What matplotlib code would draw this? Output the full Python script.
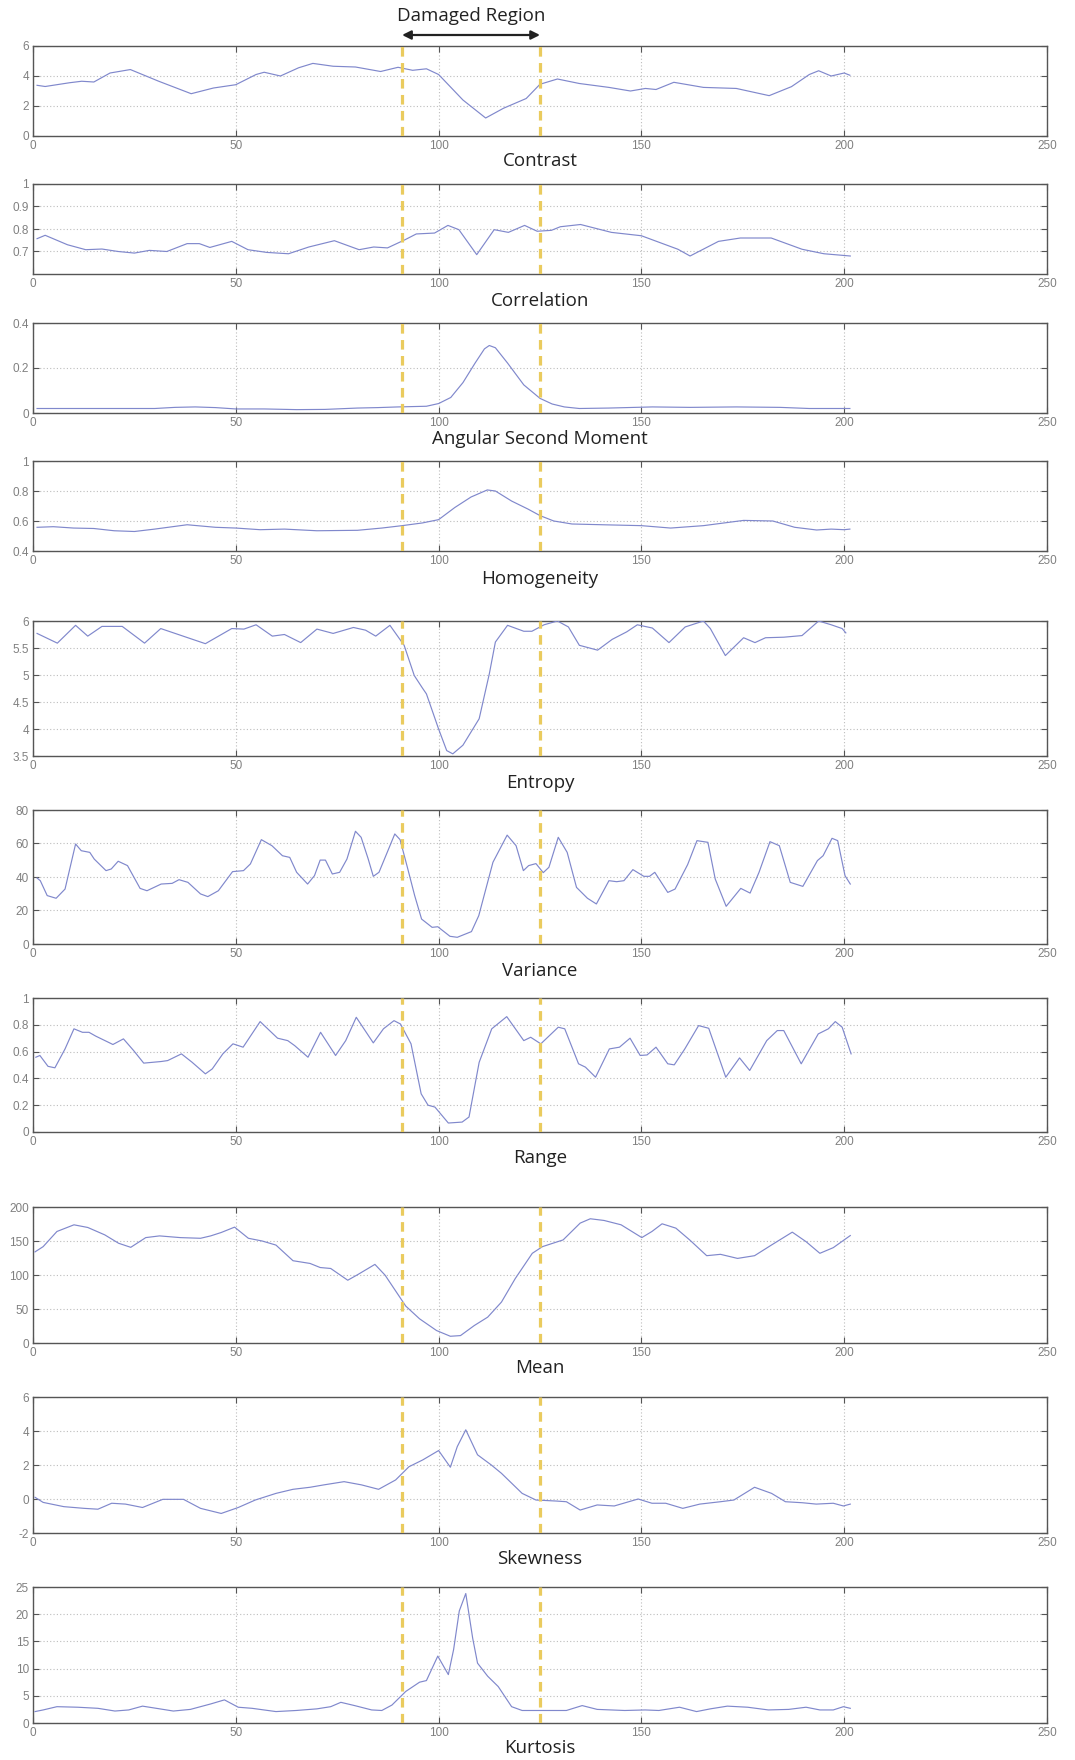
import matplotlib
matplotlib.use('Agg')
import matplotlib.pyplot as plt

# ---------------- data ----------------
contrast_x = [1,3,9,12,15,19,24,31,39,44.5,50,55,57,61,65.5,69,74,79.5,85.7,90,93.6,97,100,106,111.6,116,121.6,125,129.3,134.7,142,147.3,151,153.6,158,165.3,173.4,181.5,187,191.4,193.7,196.8,200,201.4]
contrast_y = [3.38,3.3,3.55,3.65,3.6,4.2,4.43,3.65,2.82,3.2,3.42,4.1,4.25,4.0,4.55,4.84,4.65,4.6,4.3,4.58,4.38,4.48,4.1,2.4,1.2,1.85,2.5,3.45,3.8,3.5,3.24,3.0,3.17,3.1,3.58,3.24,3.17,2.69,3.29,4.1,4.35,4.0,4.2,4.05]

corr_x = [1,3,8.5,13,17,21,25,28.7,33,38,41,43.6,49,53,57.6,63,68,74.3,80.4,84,87.4,91.8,94.5,99,102.3,105,109.4,113.7,117.2,121.2,124.3,127.8,130,135,142.6,150,159,162,169,174.4,182,189.6,195,201.5]
corr_y = [0.757,0.772,0.73,0.708,0.711,0.70,0.693,0.705,0.70,0.735,0.735,0.718,0.745,0.708,0.696,0.69,0.72,0.748,0.708,0.72,0.716,0.753,0.778,0.782,0.816,0.797,0.686,0.797,0.785,0.816,0.79,0.794,0.81,0.82,0.785,0.77,0.71,0.68,0.745,0.76,0.76,0.71,0.69,0.68]

asm_x = [1,10,20,30,35,40,45,50,57,65,72,80,85,90,97,100,103,106,109,111.3,112.5,114,117,121,125,128,131,134.7,142,152.7,162,173.4,184.2,191.4,201.4]
asm_y = [0.02,0.02,0.02,0.02,0.025,0.027,0.024,0.018,0.018,0.015,0.016,0.022,0.024,0.027,0.03,0.042,0.069,0.135,0.222,0.285,0.30,0.29,0.222,0.125,0.065,0.04,0.027,0.02,0.022,0.027,0.025,0.027,0.025,0.02,0.02]

homog_x = [1,5,10,15,20,25,30,38,45,50,56,62,70,80,86,91,96,100,104,108,112,114,118,122,125,128.4,132.9,141.9,150,157.2,165.3,175.2,182.4,187.8,193.2,196.8,200,201.4]
homog_y = [0.558,0.562,0.553,0.55,0.535,0.53,0.546,0.575,0.558,0.553,0.542,0.546,0.535,0.538,0.553,0.569,0.587,0.609,0.69,0.76,0.807,0.8,0.733,0.68,0.636,0.6,0.58,0.574,0.569,0.553,0.569,0.604,0.6,0.558,0.54,0.546,0.542,0.546]

entropy_x = [1,6,10.5,13.5,17,22,27.5,31.5,42.5,49,52,55,59,62,66,70,74,79,82,84.5,88,91.5,94,96,97,100,102,103.5,106,110,112.5,114,117,121,123,126,129.3,132,134.7,139.2,142.8,146.4,149,152.7,156.8,160.8,165.3,167,170.7,175.2,178,180.6,185.1,189.6,193.7,196.8,199.5,200.4]
entropy_y = [5.77,5.59,5.92,5.72,5.9,5.9,5.59,5.86,5.58,5.86,5.85,5.93,5.72,5.75,5.6,5.85,5.77,5.88,5.83,5.72,5.92,5.55,4.99,4.76,4.65,4.0,3.6,3.54,3.7,4.19,5.02,5.61,5.92,5.81,5.81,5.93,6.0,5.89,5.55,5.46,5.66,5.8,5.93,5.87,5.6,5.89,6.0,5.86,5.36,5.69,5.6,5.69,5.7,5.73,6.0,5.93,5.86,5.78]

var_x = [1,1.8,3.5,5.7,7.9,10.5,11.9,14,15.1,18,19.3,21,23.3,26.4,28.1,31.6,34.3,36,38.2,41.3,43.1,45.7,49.2,51.9,53.6,56.3,58.9,61.5,63.3,65,67.7,69.4,70.8,72.1,73.8,75.6,77.4,79.5,80.9,82.6,83.9,85.3,87.5,89.2,90.5,92.3,94.1,95.8,98.4,99.8,102.8,104.6,108.1,109.9,113.4,116.9,119.1,120.9,122.2,124,125.8,127.2,129.5,131.7,134,136.7,138.9,142,143.9,145.7,147.9,150.6,152,153.3,156.5,158.3,161.4,163.7,166.4,168.2,170.9,174.5,176.8,179,181.7,184,186.7,189.8,193.4,194.8,197,198.4,200.2,201.5]
var_y = [39.4,37.8,28.9,27.3,32.8,59.7,55.7,54.7,50.7,43.8,44.8,49.4,46.8,33.2,31.8,35.8,36.2,38.4,36.8,29.9,28.3,31.8,43.2,43.8,47.8,62.3,58.7,52.7,51.7,42.8,35.8,40.8,50.1,50.1,41.8,42.8,50.7,67.3,63.7,51.1,40.4,42.8,55.7,65.7,62.3,45.8,28.9,14.9,9.95,10.3,4.6,4.0,7.4,16.9,48.8,65,58.7,43.8,46.8,48,42.6,45.8,63.7,54.7,33.8,27.3,23.9,37.8,37.2,37.8,44.4,40.4,40.4,42.8,30.8,32.8,47.4,61.7,60.7,38.8,22.5,33.2,30.4,42.8,61.1,58.7,36.8,34.4,49.8,52.7,63.1,61.7,40.8,35.8]

range_x = [0.7,1.7,3.7,5.4,7.9,10.1,12.2,13.8,15.5,18.9,19.7,22.3,24.8,27.3,31.6,33.2,36.6,39.2,42.5,44.2,46.8,49.3,51.8,56,60.3,62.8,64.5,67.8,70.9,74.6,77.1,79.7,83.9,86.4,89,90.6,93.2,95.7,97.4,99.1,102.4,105.8,107.5,110,113.1,116.8,121,122.7,125.2,129.5,131.1,134.5,136.2,138.7,142.1,144.6,147.2,149.7,151.4,153.6,156.5,158.1,160.7,164.1,166.6,170.8,174.2,176.7,180.9,183.5,185.1,189.4,193.6,196.1,197.8,199.5,201.7]
range_y = [0.558,0.571,0.49,0.479,0.62,0.77,0.744,0.744,0.715,0.665,0.653,0.695,0.608,0.514,0.526,0.533,0.583,0.521,0.434,0.471,0.583,0.658,0.633,0.824,0.7,0.682,0.645,0.558,0.744,0.571,0.682,0.856,0.665,0.77,0.831,0.806,0.658,0.285,0.2,0.186,0.067,0.074,0.112,0.52,0.77,0.861,0.682,0.707,0.658,0.782,0.77,0.509,0.484,0.409,0.62,0.633,0.7,0.571,0.575,0.633,0.509,0.501,0.62,0.794,0.774,0.409,0.553,0.459,0.682,0.757,0.757,0.509,0.732,0.77,0.824,0.782,0.583]

mean_x = [0.5,2.5,5.9,10.1,13.5,17.7,21.1,24.1,27.8,31.2,36.3,41.3,43.8,46.4,49.7,53.1,56.5,59.9,64.1,68.3,70.8,73.4,77.6,80.1,84.3,86.8,91.9,95.3,99.5,102.9,105.4,108.8,112.1,115.5,118.9,123.1,125.6,130.7,134.9,137.4,140.8,145,150.1,152.6,155.1,158.5,161.9,166.1,169.5,173.7,177.9,182.1,187.2,190.6,194,197.3,201.5]
mean_y = [134,141.7,164,173.8,169.9,159,146.7,140.7,155,157.5,155,154,157.5,162.5,170.4,154,150,144,121,117,111,109.6,92.3,100.7,115.6,99.8,54.3,35.6,18.3,9.9,10.9,25.7,38,60.2,94.8,131.9,141.7,151.6,176.3,182.7,180.2,173.8,155,164,175.3,168.9,151.6,128.4,130.4,124.4,128.4,144.2,163,149,131.9,140.2,158]

skew_x = [0.5,2.5,7.6,12.6,16,19.4,22.8,27,32,37.1,41.3,46.4,50.6,54.8,59.9,64.1,68.3,71.7,76.7,81,85.2,89.4,92.7,96.1,100,102.9,104.6,106.7,109.6,113,115.5,120.6,124,129,131.5,134.9,139.1,143.3,149.2,152.6,156,160.2,164.4,169.5,172.8,177.9,182.1,185.5,189.7,193.1,197.3,199.8,201.5]
skew_y = [0.1,-0.2,-0.45,-0.55,-0.6,-0.25,-0.3,-0.5,-0.02,-0.02,-0.55,-0.85,-0.5,-0.06,0.33,0.57,0.69,0.83,1.02,0.83,0.57,1.12,1.9,2.3,2.85,1.87,3.08,4.07,2.6,2.0,1.51,0.33,-0.06,-0.12,-0.16,-0.65,-0.35,-0.41,0,-0.25,-0.25,-0.55,-0.3,-0.16,-0.06,0.69,0.33,-0.16,-0.22,-0.3,-0.25,-0.41,-0.3]

kurt_x = [0.5,2.5,5.9,11,16,20.2,23.6,27,30.4,34.6,38.8,43.8,47.2,50.6,54,59.9,64.9,70,73.4,75.9,79.3,83.5,86,88.5,91.9,95.3,97,99.8,102.4,103.7,105.1,106.7,108.4,109.6,112.1,114.7,118,120.6,125.6,131.5,135.4,139.1,145.9,150.9,154.3,159.4,163.6,167,171.2,176.2,181.3,186.3,190.6,194,197.3,199.8,201.5]
kurt_y = [2.1,2.4,3.0,2.9,2.7,2.2,2.4,3.1,2.7,2.2,2.5,3.5,4.25,2.9,2.7,2.1,2.3,2.6,3.0,3.8,3.2,2.4,2.3,3.3,5.8,7.5,7.8,12.3,8.9,13.5,20.6,23.8,15.6,11,8.6,6.7,3.0,2.3,2.3,2.3,3.2,2.5,2.3,2.4,2.3,2.9,2.1,2.6,3.1,2.9,2.4,2.5,2.9,2.4,2.4,3.0,2.7]

titles = ["Contrast", "Correlation", "Angular Second Moment", "Homogeneity", "Entropy",
          "Variance", "Range", "Mean", "Skewness", "Kurtosis"]
ylims = [(0, 6), (0.6, 1), (0, 0.4), (0.4, 1), (3.5, 6), (0, 80), (0, 1), (0, 200), (-2, 6), (0, 25)]
yticks = [[0, 2, 4, 6], [0.7, 0.8, 0.9, 1], [0, 0.2, 0.4], [0.4, 0.6, 0.8, 1],
          [3.5, 4, 4.5, 5, 5.5, 6], [0, 20, 40, 60, 80], [0, 0.2, 0.4, 0.6, 0.8, 1],
          [0, 50, 100, 150, 200], [-2, 0, 2, 4, 6], [0, 5, 10, 15, 20, 25]]
ytick_labels = [["0", "2", "4", "6"], ["0.7", "0.8", "0.9", "1"], ["0", "0.2", "0.4"],
                ["0.4", "0.6", "0.8", "1"], ["3.5", "4", "4.5", "5", "5.5", "6"],
                ["0", "20", "40", "60", "80"], ["0", "0.2", "0.4", "0.6", "0.8", "1"],
                ["0", "50", "100", "150", "200"], ["-2", "0", "2", "4", "6"],
                ["0", "5", "10", "15", "20", "25"]]
xticks = [0, 50, 100, 150, 200, 250]
xtick_labels = ["0", "50", "100", "150", "200", "250"]
damage_start, damage_end = 91, 125
series = [(contrast_x, contrast_y), (corr_x, corr_y), (asm_x, asm_y), (homog_x, homog_y),
          (entropy_x, entropy_y), (var_x, var_y), (range_x, range_y), (mean_x, mean_y),
          (skew_x, skew_y), (kurt_x, kurt_y)]

# ---------------- layout (pixels) ----------------
W, H = 1075, 1760
ax_left, ax_right = 33, 1047
panel_px = [(46, 136), (184, 274), (323, 413), (461, 551), (621, 756),
            (810, 944), (998, 1132), (1207, 1343), (1397, 1533), (1587, 1723)]
label_px = [161, 301, 439, 579, 783, 971, 1158, 1368, 1559, 1748]

LINE = '#8088cc'
DASH = '#eacb5e'
TICKC = '#808080'

fig = plt.figure(figsize=(W / 100, H / 100), dpi=100)
fig.patch.set_facecolor('white')

axes = []
for i, ((top, bot), (xs, ys)) in enumerate(zip(panel_px, series)):
    ax = fig.add_axes([ax_left / W, 1 - bot / H, (ax_right - ax_left) / W, (bot - top) / H])
    axes.append(ax)
    ax.plot(xs, ys, color=LINE, lw=0.85, zorder=3)
    ax.set_xlim(0, 250)
    ax.set_ylim(*ylims[i])
    ax.set_xticks(xticks)
    ax.set_xticklabels(xtick_labels)
    ax.set_yticks(yticks[i])
    ax.set_yticklabels(ytick_labels[i])
    ax.grid(True, color='#bdbdbd', ls=(0, (1, 2)), lw=0.8)
    ax.tick_params(direction='in', length=4, width=0.8, top=True, right=True,
                   labelsize=8.5, labelcolor=TICKC, color='#555555', pad=3)
    for lab in ax.get_xticklabels() + ax.get_yticklabels():
        lab.set_family('Liberation Sans')
    for sp in ax.spines.values():
        sp.set_color('#555555')
        sp.set_linewidth(1.0)
    for xv in (damage_start, damage_end):
        ax.axvline(xv, color=DASH, lw=2.3, ls=(0, (3, 2)), zorder=4)
    fig.text((ax_left + ax_right) / 2 / W, 1 - label_px[i] / H, titles[i],
             ha='center', va='center', fontsize=13.5, family='Open Sans', color='#222222')

# Damaged region annotation
ax0 = axes[0]
ax0.annotate('', xy=(damage_end, 1 - 35 / H), xytext=(damage_start, 1 - 35 / H),
             xycoords=('data', 'figure fraction'), textcoords=('data', 'figure fraction'),
             arrowprops=dict(arrowstyle='<|-|>', color='#222222', lw=1.6, mutation_scale=13,
                             shrinkA=0, shrinkB=0),
             annotation_clip=False)
ax0.annotate('Damaged Region', xy=((damage_start + damage_end) / 2, 1 - 16 / H),
             xycoords=('data', 'figure fraction'), ha='center', va='center',
             fontsize=13.5, family='Open Sans', color='#222222', annotation_clip=False)

fig.savefig('out.png', dpi=100, facecolor='white')
